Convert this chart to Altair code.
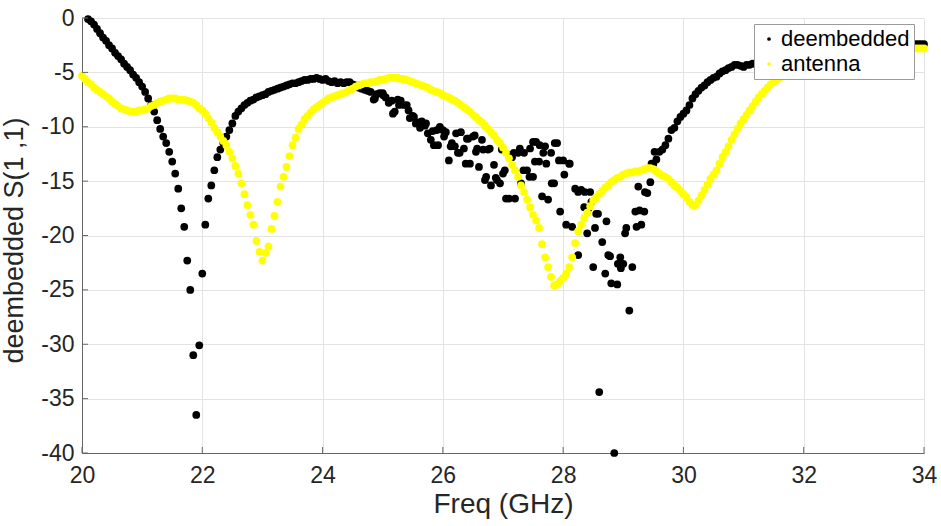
import altair as alt
import pandas as pd

# ---------------- data ----------------
FREQ_STEP = 0.05
antenna_start = 20.0
deembedded_start = 20.1

antenna_db = [
    -5.3, -5.6, -5.9, -6.1, -6.4, -6.6, -6.8, -7.0, -7.2, -7.4, -7.7, -7.9, -8.1, -8.3, -8.4, -8.5, -8.6, -8.6, -8.6, -8.5,
    -8.5, -8.4, -8.3, -8.1, -8.0, -7.8, -7.7, -7.6, -7.5, -7.4, -7.4, -7.4, -7.5, -7.5, -7.5, -7.6, -7.7, -7.8, -8.0, -8.3,
    -8.5, -8.8, -9.2, -9.6, -10.1, -10.5, -10.9, -11.3, -11.7, -12.3, -12.9, -13.6, -14.3, -15.2, -16.2, -17.2, -18.1, -19.0, -20.5, -21.5,
    -22.3, -21.6, -21.0, -19.4, -18.2, -16.9, -15.5, -14.6, -13.7, -12.7, -11.7, -11.0, -10.2, -9.8, -9.3, -9.0, -8.7, -8.4, -8.2, -8.0,
    -7.8, -7.6, -7.4, -7.3, -7.2, -7.1, -7.0, -6.9, -6.8, -6.6, -6.5, -6.3, -6.2, -6.1, -6.0, -6.0, -5.9, -5.9, -5.8, -5.7,
    -5.7, -5.6, -5.5, -5.5, -5.5, -5.5, -5.6, -5.6, -5.7, -5.8, -5.9, -6.0, -6.1, -6.2, -6.3, -6.4, -6.6, -6.7, -6.8, -6.9,
    -7.1, -7.2, -7.3, -7.5, -7.6, -7.8, -8.0, -8.2, -8.4, -8.6, -8.9, -9.1, -9.4, -9.6, -9.9, -10.2, -10.5, -10.8, -11.2, -11.5,
    -11.9, -12.4, -12.9, -13.5, -14.0, -14.6, -15.4, -16.0, -16.7, -17.4, -18.1, -18.6, -19.3, -20.8, -22.0, -22.9, -23.8, -24.6, -24.5, -24.2,
    -23.9, -23.5, -22.9, -22.0, -20.7, -19.6, -19.0, -18.4, -17.9, -17.3, -16.8, -16.5, -16.2, -15.9, -15.6, -15.4, -15.1, -14.9, -14.7, -14.6,
    -14.4, -14.3, -14.2, -14.2, -14.1, -14.1, -14.0, -13.9, -13.8, -13.8, -13.9, -14.1, -14.3, -14.5, -14.6, -14.8, -15.1, -15.4, -15.6, -15.9,
    -16.2, -16.5, -16.9, -17.2, -17.2, -16.8, -16.3, -15.8, -15.3, -14.8, -14.4, -14.0, -13.4, -12.8, -12.3, -11.8, -11.2, -10.7, -10.2, -9.7,
    -9.3, -8.9, -8.5, -8.1, -7.7, -7.3, -7.0, -6.7, -6.4, -6.1, -5.9, -5.7, -5.5, -5.3, -5.1, -5.0, -4.9, -4.8, -4.7, -4.6,
    -4.5, -4.4, -4.3, -4.2, -4.1, -4.0, -4.0, -3.9, -3.8, -3.8, -3.7, -3.6, -3.6, -3.5, -3.5, -3.4, -3.4, -3.3, -3.3, -3.2,
    -3.2, -3.2, -3.1, -3.1, -3.1, -3.0, -3.0, -3.0, -3.0, -2.9, -2.9, -2.9, -2.9, -2.9, -2.8, -2.8, -2.8, -2.8, -2.8, -2.8,
    -2.8,
]

deembedded_db = [
    -0.1, -0.3, -0.6, -1.0, -1.4, -1.8, -2.1, -2.5, -2.8, -3.2, -3.5, -3.8, -4.2, -4.5, -4.8, -5.2, -5.5, -5.9,
    -6.3, -6.8, -7.4, -8.0, -8.6, -9.4, -10.2, -10.9, -11.5, -12.3, -13.2, -14.3, -15.7, -17.5, -19.2, -22.3, -25.0, -31.0, -36.5, -30.1,
    -23.5, -19.0, -16.6, -15.4, -14.0, -12.8, -12.1, -11.5, -10.9, -10.3, -9.7, -9.0, -8.6, -8.3, -8.0, -7.8, -7.6, -7.5, -7.3, -7.2,
    -7.1, -7.0, -6.8, -6.7, -6.6, -6.5, -6.4, -6.3, -6.2, -6.1, -6.0, -6.0, -5.9, -5.8, -5.7, -5.7, -5.6, -5.6, -5.5, -5.6,
    -5.7, -5.6, -5.8, -5.9, -5.8, -6.0, -5.9, -6.0, -5.9, -5.9, -6.1, -6.2, -6.4, -6.5, -6.6, -6.7, -6.8, -7.5, -7.0, -6.9,
    -6.9, -7.3, -7.8, -7.6, -8.6, -7.5, -7.6, -8.0, -8.0, -9.2, -9.0, -9.7, -9.6, -9.5, -9.9, -10.6, -11.2, -11.7, -10.3, -10.0,
    -10.3, -10.5, -13.1, -11.5, -11.8, -12.4, -10.5, -12.0, -11.1, -13.4, -10.9, -12.3, -13.7, -11.2, -14.9, -12.1, -15.4, -13.5, -14.9, -15.2,
    -14.3, -16.6, -16.6, -12.8, -16.6, -12.4, -15.2, -12.4, -14.0, -12.0, -14.6, -11.4, -13.2, -16.4, -11.8, -16.7, -12.4, -15.2, -11.5, -17.8,
    -13.1, -19.0, -13.4, -19.2, -15.7, -21.8, -15.8, -17.4, -19.8, -16.0, -22.9, -18.0, -34.4, -20.6, -23.5, -21.8, -24.4, -40.0, -24.5, -22.0,
    -22.6, -19.3, -26.9, -22.9, -17.8, -15.5, -19.0, -17.8, -16.1, -15.1, -13.4, -13.0, -12.3, -12.1, -11.7, -11.1, -10.3, -10.1, -9.5, -9.1,
    -8.8, -8.5, -8.0, -7.4, -7.0, -6.7, -6.4, -6.2, -5.9, -5.7, -5.5, -5.4, -5.1, -4.9, -4.8, -4.6, -4.5, -4.3, -4.3, -4.4,
    -4.5, -4.3, -4.3, -4.2, -4.2, -4.1, -4.1, -4.0, -4.0, -3.9, -3.9, -3.8, -3.8, -3.7, -3.7, -3.6, -3.6, -3.5, -3.5, -3.5,
    -3.4, -3.4, -3.3, -3.3, -3.3, -3.2, -3.2, -3.2, -3.1, -3.1, -3.1, -3.0, -3.0, -3.0, -2.9, -2.9, -2.9, -2.8, -2.8, -2.8,
    -2.8, -2.7, -2.7, -2.7, -2.7, -2.6, -2.6, -2.6, -2.6, -2.6, -2.5, -2.5, -2.5, -2.5, -2.5, -2.4, -2.4, -2.4, -2.4, -2.4,
    -2.4,
]

# additional scattered deembedded samples in the noisy band
deembedded_extra_freq = [
    24.62, 24.87, 25.01, 25.17, 25.27, 25.43, 25.52, 25.62, 25.72, 25.83, 25.92, 26.02, 26.13, 26.22,
    26.28, 26.38, 26.42, 26.53, 26.57, 26.67, 26.72, 26.78, 26.88, 26.98, 27.03, 27.12, 27.18, 27.28,
    27.34, 27.44, 27.50, 27.53, 27.61, 27.67, 27.72, 27.81, 27.86, 27.93, 28.02, 28.11, 28.25, 28.36,
    28.42, 28.47, 28.53, 28.58, 28.72, 28.78, 28.91, 28.96, 29.03, 29.22, 29.27, 29.36, 29.47, 29.52,
]
deembedded_extra_db = [
    -6.2, -7.4, -7.1, -8.8, -8.0, -8.5, -9.1, -10.1, -9.7, -10.4, -11.7, -10.9, -11.8, -10.6,
    -12.4, -13.4, -11.1, -10.8, -12.0, -12.1, -14.6, -12.0, -14.7, -12.1, -14.0, -12.6, -12.4, -12.0,
    -14.0, -14.6, -11.4, -13.2, -11.7, -12.4, -13.4, -15.2, -11.5, -13.1, -14.4, -13.4, -16.0, -16.0,
    -17.5, -16.9, -19.3, -18.0, -18.7, -21.9, -22.6, -23.0, -19.8, -19.2, -17.7, -16.0, -13.4, -12.3,
]

series_names = ["deembedded", "antenna"]
series_colors = ["#000000", "#ffff00"]
x_ticks = [20, 22, 24, 26, 28, 30, 32, 34]
y_ticks = [-40, -35, -30, -25, -20, -15, -10, -5, 0]

# ---------------- table ----------------
rows = []
for i, v in enumerate(deembedded_db):
    rows.append({"series": "deembedded", "freq": round(deembedded_start + FREQ_STEP * i, 3), "db": v})
for f, v in zip(deembedded_extra_freq, deembedded_extra_db):
    rows.append({"series": "deembedded", "freq": f, "db": v})
for i, v in enumerate(antenna_db):
    rows.append({"series": "antenna", "freq": round(antenna_start + FREQ_STEP * i, 3), "db": v})
df = pd.DataFrame(rows)
df["idx"] = range(len(df))

FONT = "Liberation Sans, Arial, Helvetica, sans-serif"
AXIS_COLOR = "#666666"
TEXT_COLOR = "#262626"
GRID_COLOR = "#e3e3e3"

x_scale = alt.Scale(domain=[20, 34], nice=False, zero=False)
y_scale = alt.Scale(domain=[-40, 0], nice=False, zero=False)

points = alt.Chart(df).mark_circle(size=60, opacity=1, strokeWidth=0).encode(
    x=alt.X(
        "freq:Q", scale=x_scale,
        axis=alt.Axis(
            values=x_ticks, title="Freq (GHz)", grid=True, gridColor=GRID_COLOR,
            ticks=False, tickSize=0, domainColor=AXIS_COLOR, labelPadding=11,
            labelExpr="toString(datum.value)",
            labelFontSize=23, labelFont=FONT, labelColor=TEXT_COLOR,
            titleFontSize=28, titleFont=FONT, titleColor=TEXT_COLOR, titleFontWeight="normal",
            titleBaseline="alphabetic", titleY=59, labelFlush=False,
        ),
    ),
    y=alt.Y(
        "db:Q", scale=y_scale,
        axis=alt.Axis(
            values=y_ticks, title="deembedded S(1 ,1)", grid=True, gridColor=GRID_COLOR,
            ticks=False, tickSize=0, domainColor=AXIS_COLOR, labelPadding=8,
            labelExpr="toString(datum.value)",
            labelFontSize=23, labelFont=FONT, labelColor=TEXT_COLOR,
            titleFontSize=27, titleFont=FONT, titleColor=TEXT_COLOR, titleFontWeight="normal",
            titleBaseline="alphabetic", titleX=-60, titleY=222, titleAngle=270, labelFlush=False,
        ),
    ),
    color=alt.Color(
        "series:N",
        scale=alt.Scale(domain=series_names, range=series_colors),
        legend=alt.Legend(
            title=None, orient="none", legendX=672, legendY=6, direction="vertical",
            fillColor="white", strokeColor="#9a9a9a", padding=4, cornerRadius=0,
            symbolType="circle", symbolSize=14, symbolStrokeWidth=0, symbolOffset=0,
            labelFontSize=22, labelFont=FONT, labelColor="#000000", labelOffset=1,
            rowPadding=3, labelLimit=400,
        ),
    ),
    order=alt.Order("idx:Q"),
)

x_tick_marks = alt.Chart(pd.DataFrame({"freq": x_ticks})).mark_rule(
    color=AXIS_COLOR, strokeWidth=1
).encode(
    x=alt.X("freq:Q", scale=x_scale),
    y=alt.value(435), y2=alt.value(429),
)

y_tick_marks = alt.Chart(pd.DataFrame({"db": y_ticks})).mark_rule(
    color=AXIS_COLOR, strokeWidth=1
).encode(
    y=alt.Y("db:Q", scale=y_scale),
    x=alt.value(0), x2=alt.value(6),
)

chart = alt.layer(points, x_tick_marks, y_tick_marks).properties(
    width=842, height=435,
    autosize=alt.AutoSizeParams(type="none"),
    padding={"left": 82, "top": 18, "right": 17, "bottom": 73},
    background="white",
).configure_view(stroke=None)

chart.save("out.html", embed_options={"renderer": "svg", "actions": False})
